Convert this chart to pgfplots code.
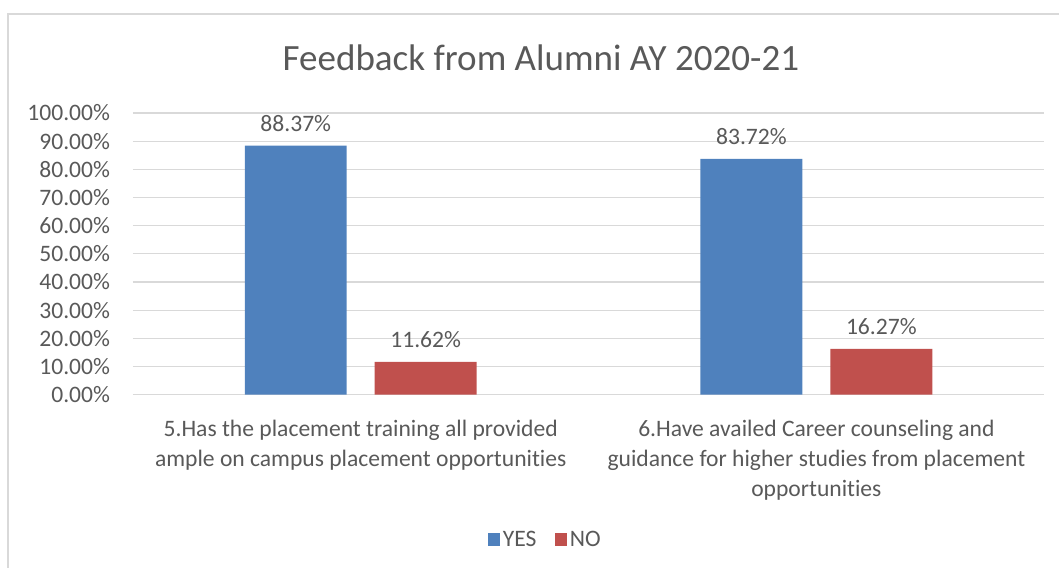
\documentclass[border=0pt]{standalone}
\usepackage{pgfplots}
\pgfplotsset{compat=1.18}
\usepackage{fontspec}
\setmainfont{Carlito}[Ligatures=NoCommon]
\definecolor{yescol}{HTML}{4F81BD}
\definecolor{nocol}{HTML}{C0504D}
\definecolor{txt}{HTML}{595959}
\definecolor{gridcol}{HTML}{D9D9D9}
\newcommand{\lab}{\fontsize{17.7}{22.5}\selectfont}
\begin{document}
\begin{tikzpicture}
\path (0,0) rectangle (795pt,-426pt);
\draw[gridcol, line width=1.2pt] (6pt,-426pt) -- (6pt,-10.5pt) -- (795pt,-10.5pt);
\node[txt, font=\fontsize{27.8}{33}\selectfont] at (406pt,-43.5pt) {Feedback from Alumni AY 2020-21};
\begin{axis}[
  at={(99.75pt,-296.25pt)}, anchor=south west,
  scale only axis, width=684pt, height=211.5pt,
  xmin=-0.5, xmax=1.5, ymin=0, ymax=100,
  ytick={0,10,20,30,40,50,60,70,80,90,100},
  yticklabel={\pgfmathprintnumber[fixed,fixed zerofill,precision=2]{\tick}\%},
  /pgf/number format/assume math mode=true,
  ymajorgrids, grid style={gridcol, line width=0.9pt},
  axis line style={draw=none},
  major tick length=0pt,
  xtick={0,1},
  xticklabels={{5.Has the placement training all provided\\ample on campus placement opportunities},{6.Have availed Career counseling and\\guidance for higher studies from placement\\opportunities}},
  xticklabel style={align=center, font=\lab, text=txt, anchor=north, inner sep=0pt, yshift=-19pt},
  yticklabel style={font=\lab, text=txt, anchor=east, inner sep=0pt, xshift=-17pt},
  ybar=21pt, bar width=76.5pt,
  nodes near coords={\pgfmathprintnumber[fixed,fixed zerofill,precision=2]{\pgfplotspointmeta}\%},
  nodes near coords style={font=\lab, text=txt, anchor=center, inner sep=0pt, yshift=16.5pt},
  legend style={at={(0.453,-0.514)}, anchor=center, draw=none, fill=none, legend columns=2, font=\lab, text=txt,
    /tikz/every even column/.append style={column sep=12pt},
    /tikz/every odd column/.append style={}},
  legend image code/.code={\fill[#1] (0pt,-5pt) rectangle (9pt,5pt);},
]
\addplot[fill=yescol, draw=none] coordinates {(0,88.37) (1,83.72)};
\addplot[fill=nocol, draw=none] coordinates {(0,11.62) (1,16.27)};
\legend{YES,NO}
\end{axis}
\end{tikzpicture}
\end{document}
